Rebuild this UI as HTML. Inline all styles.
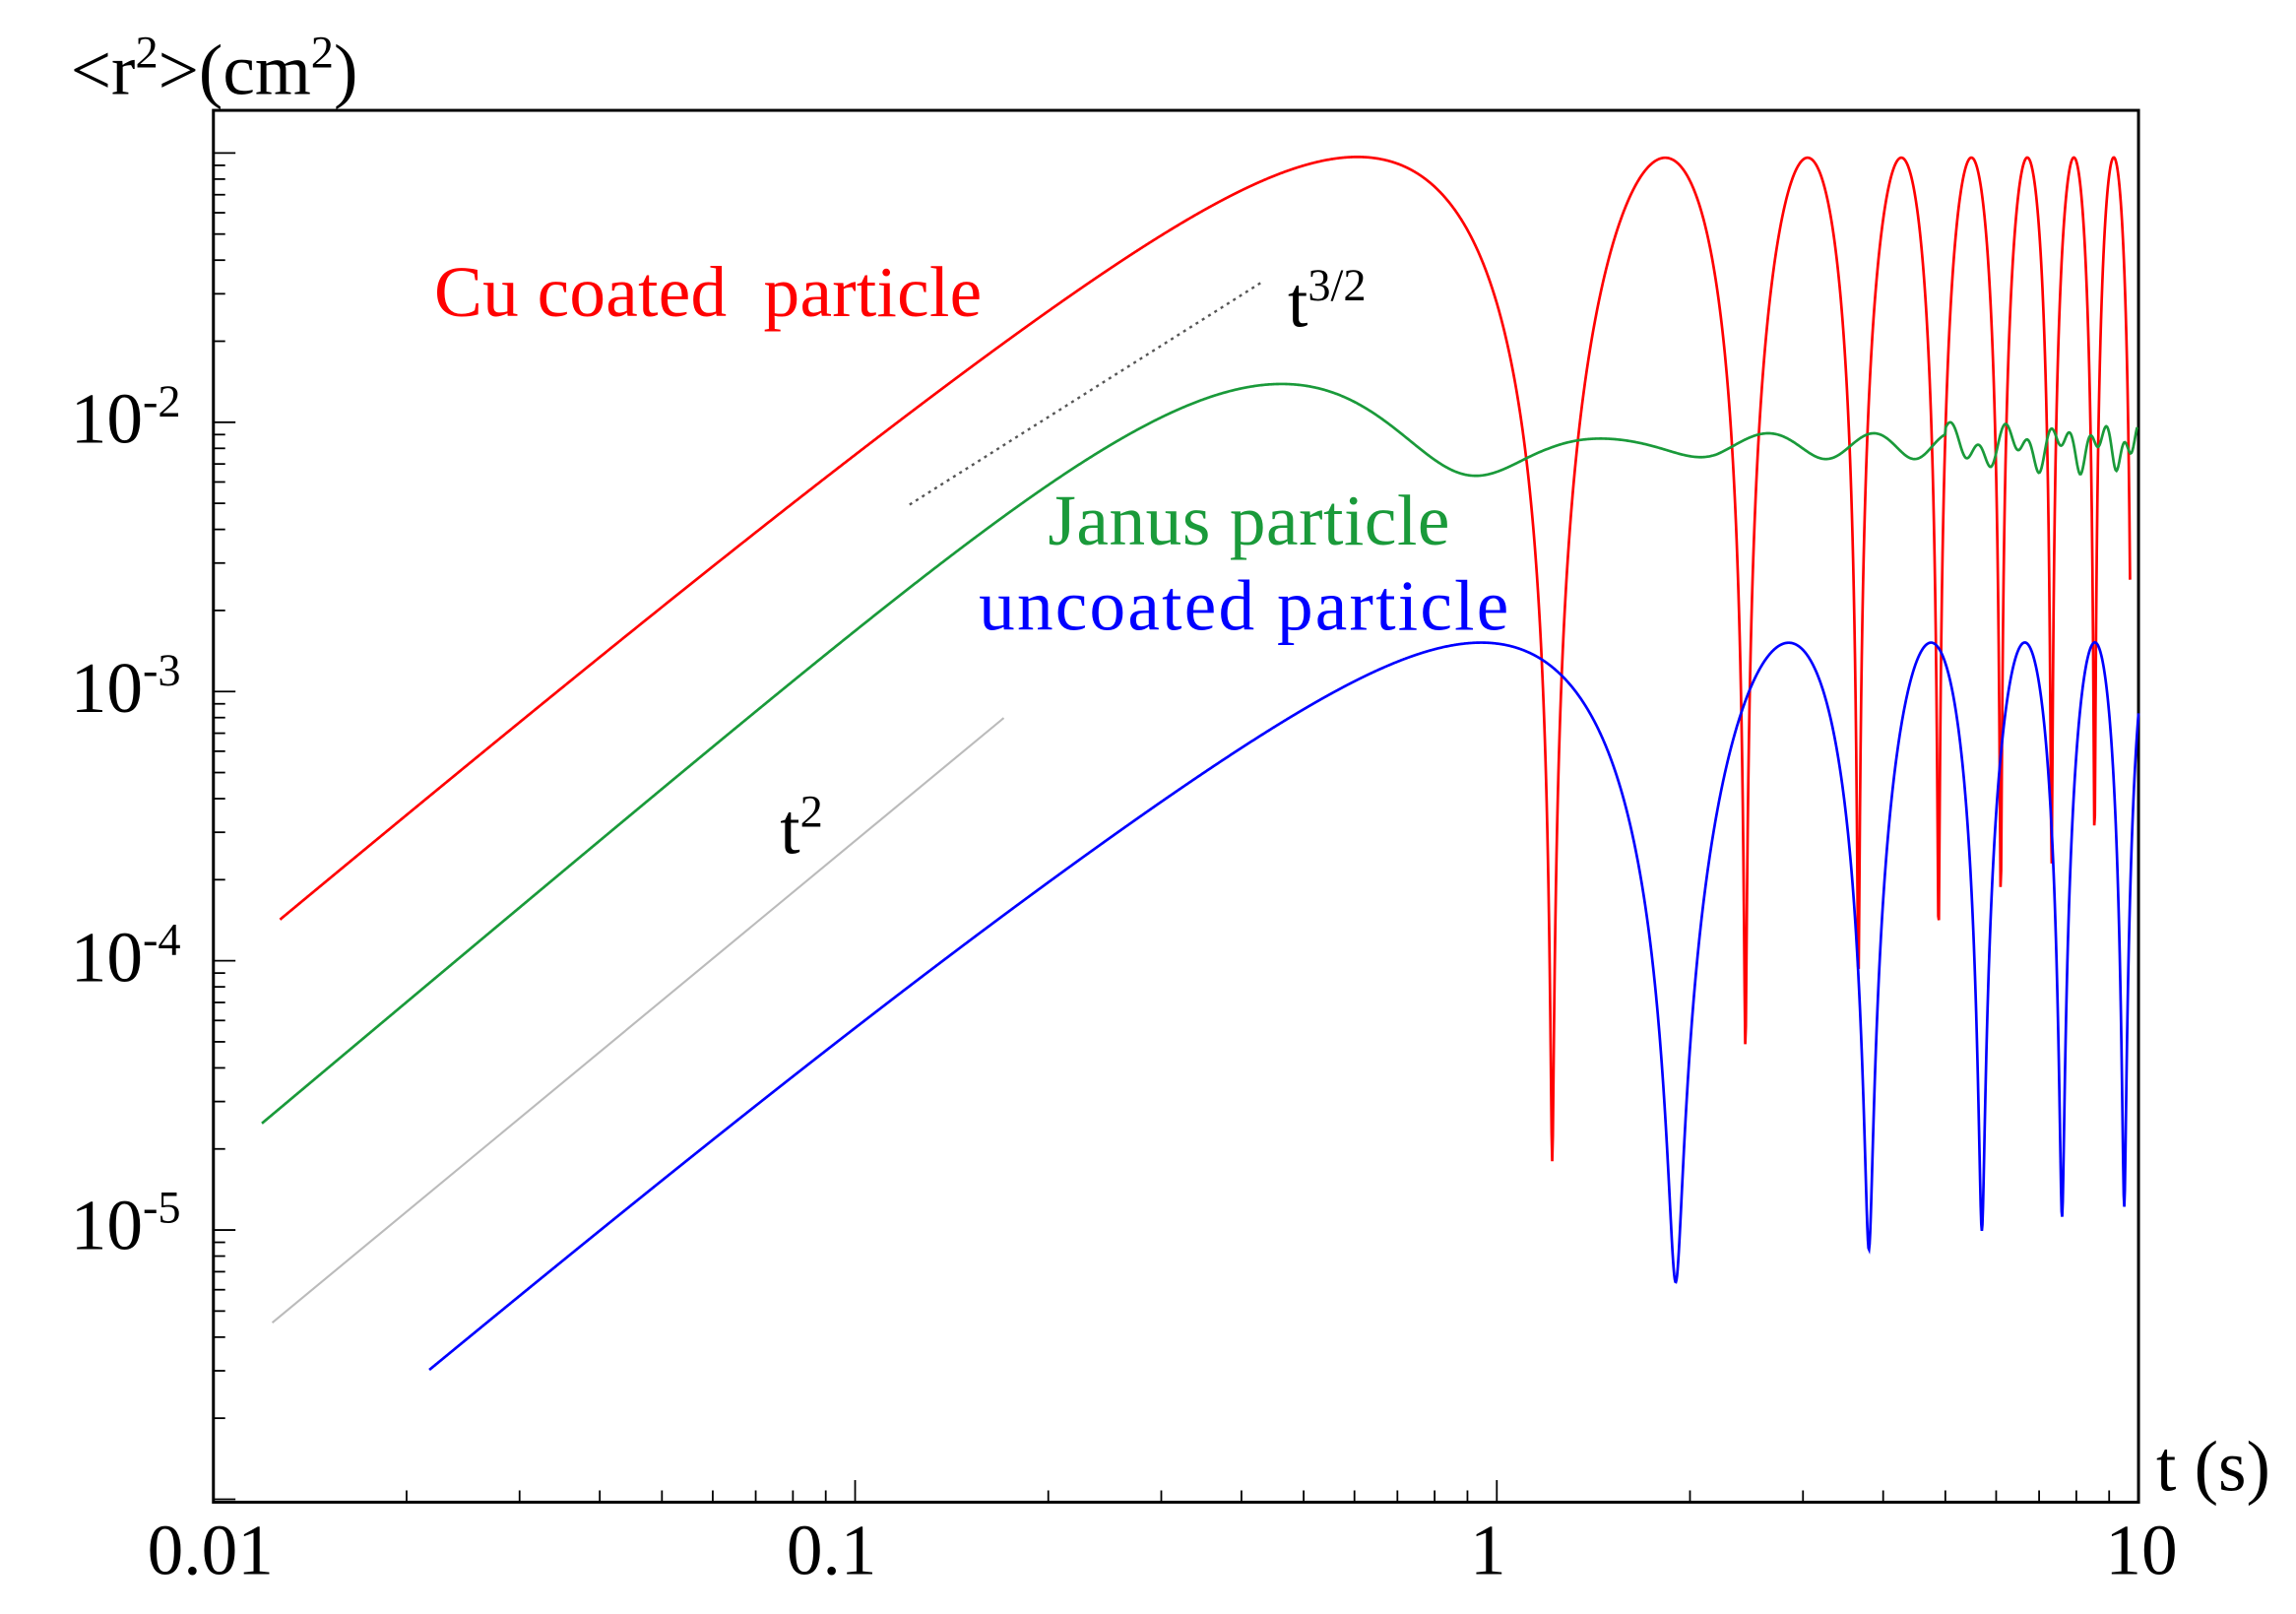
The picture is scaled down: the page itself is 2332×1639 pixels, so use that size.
<!DOCTYPE html>
<html><head><meta charset="utf-8"><style>
html,body{margin:0;padding:0;background:#fff;}
svg{display:block;}
text{font-family:"Liberation Serif",serif;}
</style></head><body>
<svg id="s" width="2332" height="1639" viewBox="0 0 1560 1097" preserveAspectRatio="none" xmlns="http://www.w3.org/2000/svg">
<rect x="0" y="0" width="1560" height="1097" fill="#fff"/>
<g id="ticks" stroke="#000" stroke-width="1.2"></g>
<rect x="145" y="75" width="1308" height="946" fill="none" stroke="#000" stroke-width="2"/>
<line x1="618" y1="343" x2="857" y2="192" stroke="#555" stroke-width="1.6" stroke-dasharray="2,3"/>
<line x1="185" y1="899" x2="682" y2="488" stroke="#bbb" stroke-width="1.4"/>
<path id="red" fill="none" stroke="#ff0000" stroke-width="1.8"/>
<path id="green" fill="none" stroke="#1a9a3a" stroke-width="1.8"/>
<path id="blue" fill="none" stroke="#0000ff" stroke-width="1.8"/>
<g font-size="49">
<text x="295" y="215" fill="#ff0000" textLength="372" xml:space="preserve">Cu coated  particle</text>
<text x="712" y="370" fill="#1a9a3a" textLength="273">Janus particle</text>
<text x="665" y="428" fill="#0000ff" textLength="360">uncoated particle</text>
<text x="875" y="222" fill="#000">t<tspan font-size="31" dy="-18">3/2</tspan></text>
<text x="530" y="580" fill="#000">t<tspan font-size="31" dy="-18">2</tspan></text>
<text x="48" y="64" fill="#000">&lt;r<tspan font-size="31" dy="-18">2</tspan><tspan dy="18">&gt;(cm</tspan><tspan font-size="31" dy="-18">2</tspan><tspan dy="18">)</tspan></text>
<text x="1465" y="1013" fill="#000">t (s)</text>
<text x="143" y="1070" text-anchor="middle">0.01</text>
<text x="565" y="1070" text-anchor="middle">0.1</text>
<text x="1011" y="1070" text-anchor="middle">1</text>
<text x="1455" y="1070" text-anchor="middle">10</text>
<text x="48" y="301">10<tspan font-size="31" dy="-18">-2</tspan></text>
<text x="48" y="484">10<tspan font-size="31" dy="-18">-3</tspan></text>
<text x="48" y="667">10<tspan font-size="31" dy="-18">-4</tspan></text>
<text x="48" y="849">10<tspan font-size="31" dy="-18">-5</tspan></text>
</g>
</svg>
<script>
function X(t){return 145+436*(Math.log10(t)+2);}
function Y(r){return 287-183*(Math.log10(r)+2);}
var tk=document.getElementById('ticks'),h='';
for(var d=-6;d<=-1;d++){for(var m=1;m<10;m++){var v=m*Math.pow(10,d);var y=Y(v);if(y<75||y>1021)continue;var L=m==1?15:8;h+='<line x1="145" y1="'+y+'" x2="'+(145+L)+'" y2="'+y+'"/>';}}
for(var d=-2;d<=0;d++){for(var m=1;m<10;m++){var v=m*Math.pow(10,d);var x=X(v);var L=m==1?15:8;h+='<line x1="'+x+'" y1="1021" x2="'+x+'" y2="'+(1021-L)+'"/>';}}
tk.innerHTML=h;
function path(f,t0,t1,n){var p='';for(var i=0;i<=n;i++){var t=t0*Math.pow(t1/t0,i/n);var r=f(t);if(r<1e-7)r=1e-7;var y=Y(r);if(y>1021)y=1021;if(y<75)y=75;p+=(i?'L':'M')+X(t).toFixed(2)+','+y.toFixed(2);}return p;}
var Tr=1.22,Ar=0.048;
document.getElementById('red').setAttribute('d',path(function(t){return Ar*(1-Math.cos(2*Math.PI*t/Tr))*(1+0.42*Math.exp(-t/0.15))+1.8e-5*Math.pow(t/1.22,1.4)*Math.min(1,Math.pow(t/1.0,4));},0.0127,9.7,3000));
var Tb=1.9,Ab=0.000755;
document.getElementById('blue').setAttribute('d',path(function(t){return Ab*(1-Math.cos(2*Math.PI*t/Tb))*(1+0.62*Math.exp(-t/0.2))+6.4e-6*Math.pow(t/1.9,0.4)*Math.min(1,Math.pow(t/1.5,4));},0.0217,10,3000));
document.getElementById('green').setAttribute('d',path(function(t){var A=0.0082,w=6.3,g=1.6;var base=A*(1-Math.cos(w*t)*Math.exp(-g*t*t));var wig=t>1.2?0.0009*Math.sin(2*Math.PI*t/Tr+0.5)*Math.min(1,(t-1.2)):0;var wig2=t>5?0.0009*Math.sin(2*Math.PI*t/0.55):0;return base+wig+wig2;},0.0119,9.95,2000));
</script>
</body></html>
